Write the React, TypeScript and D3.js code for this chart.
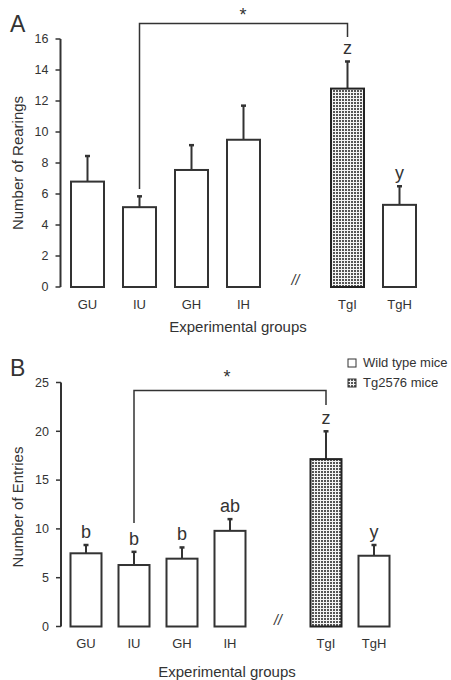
import React from "react";
import * as d3 from "d3";

// Group order; the empty slot "//" marks the break between wild type and Tg2576 groups
const slots = ["GU", "IU", "GH", "IH", "//", "TgI", "TgH"];
const groups = ["GU", "IU", "GH", "IH", "TgI", "TgH"];
const transgenic = ["TgI"];

// Panel A: rearings (mean, mean + SEM)
const rearMean = [6.8, 5.15, 7.55, 9.5, 12.8, 5.3];
const rearUpper = [8.45, 5.85, 9.15, 11.7, 14.55, 6.5];
const rearLetters = ["", "", "", "", "z", "y"];
const rearTicks = [0, 2, 4, 6, 8, 10, 12, 14, 16];

// Panel B: entries (mean, mean + SEM)
const entryMean = [7.5, 6.3, 6.95, 9.8, 17.15, 7.25];
const entryUpper = [8.35, 7.65, 8.1, 11.0, 20.0, 8.35];
const entryLetters = ["b", "b", "b", "ab", "z", "y"];
const entryTicks = [0, 5, 10, 15, 20, 25];

const legendItems = ["Wild type mice", "Tg2576 mice"];

const INK = "#333";
const FONT = "'Liberation Sans', Arial, Helvetica, sans-serif";

type PanelProps = {
  label: string;
  yTitle: string;
  mean: number[];
  upper: number[];
  letters: string[];
  ticks: number[];
  yMax: number;
  yTop: number;
  yBottom: number;
  xStart: number;
  step: number;
  barW: number;
  bracketY: number;
  bracketLeftEnd: number;
  bracketRightEnd: number;
  starY: number;
  starX: number;
  catY: number;
  titleY: number;
  titleX: number;
  labelY: number;
  yTitleY: number;
  children?: React.ReactNode;
};

function Panel(p: PanelProps) {
  const x = d3
    .scaleBand<string>()
    .domain(slots)
    .range([p.xStart, p.xStart + p.step * slots.length])
    .paddingInner(0)
    .paddingOuter(0);
  const y = d3.scaleLinear().domain([0, p.yMax]).range([p.yBottom, p.yTop]);
  const axisX = p.xStart - 1;
  const cx = (g: string) => (x(g) as number) + x.bandwidth() / 2;
  const breakX = cx("//");
  return (
    <g>
      <text x={10} y={p.labelY} fontSize={23} fill={INK} fontFamily={FONT}>
        {p.label}
      </text>
      {/* y axis */}
      <line x1={axisX} x2={axisX} y1={y(p.yMax)} y2={y(0)} stroke={INK} strokeWidth={2} />
      {p.ticks.map((t) => (
        <g key={t}>
          <line x1={axisX - 5} x2={axisX} y1={y(t)} y2={y(t)} stroke={INK} strokeWidth={1.5} />
          <text
            x={axisX - 12}
            y={y(t)}
            dy="0.35em"
            textAnchor="end"
            fontSize={12.5}
            fill={INK}
            fontFamily={FONT}
          >
            {t}
          </text>
        </g>
      ))}
      <text
        transform={`translate(23,${p.yTitleY}) rotate(-90)`}
        textAnchor="middle"
        fontSize={15}
        fill={INK}
        fontFamily={FONT}
      >
        {p.yTitle}
      </text>
      {/* bars with error bars */}
      {groups.map((g, i) => {
        const c = cx(g);
        const top = y(p.mean[i]);
        const errTop = y(p.upper[i]);
        const tg = transgenic.includes(g);
        return (
          <g key={g}>
            <line x1={c} x2={c} y1={top} y2={errTop} stroke={INK} strokeWidth={2} />
            <line x1={c - 2.5} x2={c + 2.5} y1={errTop} y2={errTop} stroke={INK} strokeWidth={2.5} />
            <rect
              x={c - p.barW / 2}
              y={top}
              width={p.barW}
              height={y(0) - top}
              fill={tg ? "url(#dots)" : "#fff"}
              stroke={tg ? "#222" : INK}
              strokeWidth={2}
            />
            {p.letters[i] && (
              <text
                x={c}
                y={errTop - 7}
                textAnchor="middle"
                fontSize={18}
                fill={INK}
                fontFamily={FONT}
              >
                {p.letters[i]}
              </text>
            )}
            <text x={c} y={p.catY} textAnchor="middle" fontSize={13} fill={INK} fontFamily={FONT}>
              {g}
            </text>
          </g>
        );
      })}
      {/* axis break */}
      <text x={breakX} y={y(0) - 2} textAnchor="middle" fontSize={14} fontStyle="italic" fill={INK} fontFamily={FONT}>
        //
      </text>
      {/* significance bracket between IU and TgI */}
      <path
        d={`M${cx("IU")},${p.bracketLeftEnd}V${p.bracketY}H${cx("TgI")}V${p.bracketRightEnd}`}
        fill="none"
        stroke={INK}
        strokeWidth={1.5}
      />
      <text x={p.starX} y={p.starY} textAnchor="middle" fontSize={18} fill={INK} fontFamily={FONT}>
        *
      </text>
      <text x={p.titleX} y={p.titleY} textAnchor="middle" fontSize={15} fill={INK} fontFamily={FONT}>
        Experimental groups
      </text>
      {p.children}
    </g>
  );
}

export default function App() {
  return (
    <svg width={451} height={680} style={{ display: "block", position: "absolute", left: 0, top: 0 }}>
      <defs>
        <pattern id="dots" width={3} height={3} patternUnits="userSpaceOnUse">
          <rect width={3} height={3} fill="#f4f4f4" />
          <rect width={2} height={2} fill="#555" />
        </pattern>
      </defs>
      <rect width={451} height={680} fill="#fff" />
      <Panel
        label="A"
        yTitle="Number of Rearings"
        mean={rearMean}
        upper={rearUpper}
        letters={rearLetters}
        ticks={rearTicks}
        yMax={16}
        yTop={39}
        yBottom={287}
        xStart={61.5}
        step={52}
        barW={33}
        bracketY={23.5}
        bracketLeftEnd={189}
        bracketRightEnd={37}
        starX={243}
        starY={21}
        catY={309}
        titleX={238}
        titleY={332}
        labelY={32}
        yTitleY={163}
      />
      <Panel
        label="B"
        yTitle="Number of Entries"
        mean={entryMean}
        upper={entryUpper}
        letters={entryLetters}
        ticks={entryTicks}
        yMax={25}
        yTop={382.5}
        yBottom={626.5}
        xStart={62}
        step={48}
        barW={31}
        bracketY={390.5}
        bracketLeftEnd={523}
        bracketRightEnd={405}
        starX={227}
        starY={383}
        catY={648}
        titleX={227}
        titleY={677}
        labelY={376}
        yTitleY={507}
      >
        {legendItems.map((name, i) => (
          <g key={name} transform={`translate(348,${359 + i * 20})`}>
            <rect
              x={0}
              y={0}
              width={8}
              height={8}
              fill={i === 0 ? "#fff" : "url(#dots)"}
              stroke={INK}
              strokeWidth={1}
            />
            <text x={15} y={8} fontSize={13} fill={INK} fontFamily={FONT}>
              {name}
            </text>
          </g>
        ))}
      </Panel>
    </svg>
  );
}
